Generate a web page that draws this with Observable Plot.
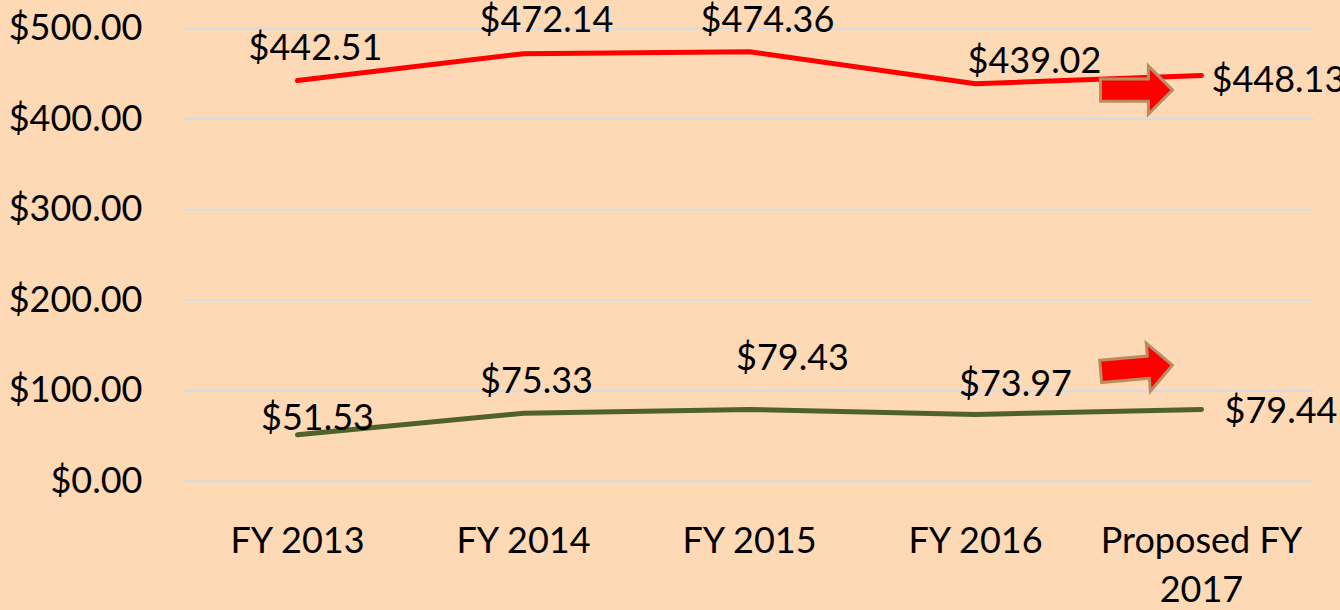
<!DOCTYPE html>
<html>
<head>
<meta charset="utf-8">
<script src="https://cdn.jsdelivr.net/npm/d3@7"></script>
<script src="https://cdn.jsdelivr.net/npm/@observablehq/plot@0.6"></script>
<style>
  html, body { margin: 0; padding: 0; background: #fdd9b5; }
  #chart svg { display: block; }
</style>
</head>
<body>
<div id="chart"></div>
<script>
// ---- data ----
const categories = ["FY 2013", "FY 2014", "FY 2015", "FY 2016", "Proposed FY 2017"];
const tickLabels = ["FY 2013", "FY 2014", "FY 2015", "FY 2016", "Proposed FY\n2017"];
const upperSeries = [442.51, 472.14, 474.36, 439.02, 448.13];
const lowerSeries = [51.53, 75.33, 79.43, 73.97, 79.44];
const yTicks = [0, 100, 200, 300, 400, 500];
const arrowCategories = ["Proposed FY 2017", "Proposed FY 2017"];
const arrowValues = [432, 125];

// ---- styles ----
const upperColor = "#ff0000";
const lowerColor = "#4f6228";
const font = "Lato, 'Open Sans', sans-serif";
const fs = 36;
const upperLabelOffsets = [[18, -32, "middle"], [23, -33, "middle"], [18, -31, "middle"], [59, -22, "middle"], [10, 5, "start"]];
const lowerLabelOffsets = [[20, -16, "middle"], [13, -32, "middle"], [43, -51, "middle"], [40, -30, "middle"], [23, 2, "start"]];
const arrowTilts = [0, -5];

const upperRows = categories.map((c, i) => ({cat: c, value: upperSeries[i]}));
const lowerRows = categories.map((c, i) => ({cat: c, value: lowerSeries[i]}));
const arrowRows = arrowCategories.map((c, i) => ({cat: c, value: arrowValues[i], tilt: arrowTilts[i]}));

const fmt = d => "$" + d3.format(",.2f")(d);

const arrowSymbol = {
  draw(ctx, size) {
    const s = Math.sqrt(size / Math.PI);
    const bh = s * 0.31, hh = s * 0.67, hx = s * 0.33;
    ctx.moveTo(-s, -bh);
    ctx.lineTo(hx, -bh);
    ctx.lineTo(hx, -hh);
    ctx.lineTo(s, 0);
    ctx.lineTo(hx, hh);
    ctx.lineTo(hx, bh);
    ctx.lineTo(-s, bh);
    ctx.closePath();
  }
};

function labelMarks(rows, offsets) {
  return rows.map((r, i) => Plot.text([r], {
    x: "cat", y: "value", text: d => fmt(d.value),
    dx: offsets[i][0], dy: offsets[i][1], textAnchor: offsets[i][2],
    fontSize: fs, fill: "#000", fontFamily: font
  }));
}

const chart = Plot.plot({
  width: 1340,
  height: 610,
  marginLeft: 183,
  marginRight: 26,
  marginTop: 28,
  marginBottom: 129,
  style: {background: "#fdd9b5", fontFamily: font, color: "#000"},
  x: {type: "band", domain: categories, padding: 0},
  y: {domain: [0, 500], ticks: yTicks},
  marks: [
    Plot.gridY(yTicks, {stroke: "#d6dbe2", strokeOpacity: 1, strokeWidth: 2}),
    Plot.axisY(yTicks, {tickSize: 0, tickPadding: 41, tickFormat: fmt, fontSize: fs, label: null}),
    Plot.axisX({tickSize: 0, tickPadding: 36, tickFormat: (d, i) => tickLabels[categories.indexOf(d)], fontSize: fs, lineHeight: 1.38, label: null}),
    Plot.line(upperRows, {x: "cat", y: "value", stroke: upperColor, strokeWidth: 5, strokeLinecap: "round"}),
    Plot.line(lowerRows, {x: "cat", y: "value", stroke: lowerColor, strokeWidth: 5, strokeLinecap: "round"}),
    ...labelMarks(upperRows, upperLabelOffsets),
    ...labelMarks(lowerRows, lowerLabelOffsets),
    Plot.dot(arrowRows, {x: "cat", y: "value", dx: -65, r: 36, symbol: arrowSymbol, rotate: "tilt",
      fill: "#ff0000", stroke: "#b98d62", strokeWidth: 3, strokeLinejoin: "miter"})
  ]
});
document.getElementById("chart").appendChild(chart);
</script>
</body>
</html>
